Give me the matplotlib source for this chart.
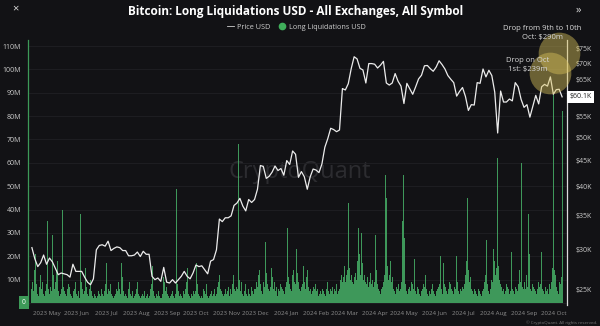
import numpy as np
import pandas as pd
import matplotlib
matplotlib.use('Agg')
import matplotlib.pyplot as plt
import matplotlib.dates as mdates
from matplotlib.lines import Line2D
from matplotlib.ticker import FixedLocator, NullLocator

plt.rcParams['font.family'] = ['Open Sans', 'DejaVu Sans']

# BTC price (USD thousands), one value every 3 days from 2023-04-16 to 2024-10-10
price_start = '2023-04-16'
price_k = [
    30.3, 28.8, 27.8, 28.3, 29.3,
    28.1, 28.9, 28.4, 27.6, 26.8, 27.0, 26.9, 26.8, 26.5, 28.1, 27.2,
    27.2, 27.2, 26.5, 25.9, 25.6, 26.3, 30.0, 30.6, 30.7, 30.5,
    31.2, 29.9, 30.2, 30.4, 30.3, 29.9, 29.9, 29.2, 29.2, 29.3,
    29.7, 29.1, 29.8, 29.4, 29.4, 26.6, 26.2, 26.4, 26.0, 27.7,
    25.9, 25.8, 26.2, 25.8, 26.2, 26.6, 27.2, 26.6, 26.3, 27.0,
    28.0, 27.8, 27.9, 27.4, 26.9, 28.5, 28.7, 30.0, 34.5, 34.1, 34.7,
    34.7, 35.0, 36.7, 37.1, 37.9, 36.6, 35.8, 37.7, 37.2, 37.7,
    39.5, 44.0, 43.8, 41.5, 41.9, 42.7, 43.9, 43.0, 43.4, 42.1,
    45.0, 44.2, 47.0, 46.3, 41.7, 42.8, 41.8, 39.5, 41.8, 43.3,
    43.1, 42.6, 44.3, 47.8, 49.7, 52.1, 51.8, 51.3, 51.7, 62.4,
    62.0, 63.8, 68.3, 72.1, 71.4, 68.4, 67.9, 64.0, 69.9, 69.9,
    69.7, 68.5, 69.4, 70.6, 64.0, 63.4, 64.0, 66.8, 64.5, 63.1,
    58.3, 63.9, 62.3, 60.8, 62.9, 65.2, 66.3, 69.2, 69.3, 68.3, 67.5,
    68.8, 70.8, 69.6, 68.2, 66.2, 65.1, 64.1, 60.3, 61.6, 62.7,
    60.2, 56.5, 58.0, 57.9, 64.1, 63.9, 68.2, 65.8, 67.8, 66.2,
    61.4, 51.0, 61.7, 58.7, 58.7, 59.5, 59.0, 64.1, 62.9, 59.4,
    57.3, 58.0, 54.8, 57.6, 60.5, 58.2, 62.9, 63.6, 63.1, 65.8,
    60.8, 62.1, 62.2, 60.1,
]

# daily long liquidations (USD millions), 2023-04-16 .. 2024-10-10
liq_start = '2023-04-16'
liq_apr23 = [6, 9, 5, 14, 21, 8, 4, 3, 7, 12, 6, 9, 4, 3, 5]
liq_may23 = [8, 35, 6, 4, 7, 5, 29, 12, 6, 9, 14, 18, 5, 3, 4, 6, 40, 7, 5, 4, 3, 6, 8, 5, 7, 4, 3, 2, 5, 6, 9]
liq_jun23 = [4, 3, 5, 2, 38, 9, 6, 4, 5, 15, 7, 4, 3, 6, 10, 5, 3, 2, 4, 3, 2, 3, 5, 4, 3, 6, 4, 3, 5, 8]
liq_jul23 = [17, 4, 6, 5, 8, 10, 4, 3, 2, 3, 4, 6, 5, 9, 6, 4, 17, 11, 5, 3, 4, 3, 2, 6, 9, 4, 3, 5, 2, 3, 4]
liq_aug23 = [6, 9, 4, 3, 2, 3, 4, 3, 5, 2, 3, 4, 2, 3, 6, 8, 50, 16, 5, 3, 2, 4, 3, 5, 3, 2, 2, 4, 11, 9, 5]
liq_sep23 = [7, 4, 3, 2, 3, 4, 5, 3, 2, 4, 49, 8, 5, 3, 4, 3, 2, 5, 4, 6, 9, 15, 4, 3, 2, 4, 3, 5, 6, 4]
liq_oct23 = [5, 17, 8, 4, 3, 2, 3, 2, 6, 5, 4, 8, 3, 2, 3, 4, 5, 3, 4, 6, 3, 4, 7, 9, 12, 6, 5, 4, 3, 4, 6]
liq_nov23 = [4, 5, 7, 3, 6, 4, 8, 12, 6, 9, 5, 7, 6, 68, 10, 5, 9, 4, 3, 5, 8, 4, 3, 6, 4, 3, 7, 5, 4, 6]
liq_dec23 = [6, 9, 7, 12, 14, 8, 5, 4, 9, 7, 26, 13, 8, 6, 5, 7, 15, 11, 6, 9, 5, 7, 4, 3, 6, 5, 8, 7, 6, 5, 4]
liq_jan24 = [7, 9, 32, 11, 8, 6, 5, 12, 14, 9, 8, 23, 13, 9, 6, 5, 7, 8, 16, 9, 6, 11, 14, 7, 5, 6, 4, 5, 7, 6, 8]
liq_feb24 = [5, 6, 4, 3, 4, 5, 4, 6, 5, 4, 3, 6, 9, 5, 4, 6, 5, 7, 4, 6, 5, 8, 4, 5, 6, 10, 12, 9, 11]
liq_mar24 = [16, 9, 12, 14, 43, 15, 10, 12, 9, 8, 11, 13, 10, 18, 32, 21, 14, 12, 30, 17, 10, 12, 9, 8, 11, 7, 9, 13, 8, 10, 7]
liq_apr24 = [9, 29, 14, 8, 6, 5, 4, 6, 7, 9, 12, 55, 45, 16, 10, 12, 18, 9, 11, 6, 5, 4, 7, 6, 8, 5, 6, 4, 9, 35]
liq_may24 = [55, 28, 8, 5, 4, 6, 7, 5, 9, 8, 6, 19, 5, 4, 7, 6, 4, 3, 5, 6, 8, 7, 12, 6, 4, 3, 5, 4, 6, 8, 5]
liq_jun24 = [4, 3, 5, 6, 7, 8, 20, 6, 4, 9, 17, 8, 7, 5, 4, 6, 9, 8, 6, 5, 4, 7, 6, 20, 9, 5, 4, 6, 5, 7]
liq_jul24 = [6, 8, 12, 18, 45, 14, 9, 11, 6, 5, 4, 6, 5, 4, 3, 6, 5, 4, 3, 5, 6, 4, 9, 12, 27, 8, 5, 4, 6, 10, 9]
liq_aug24 = [23, 18, 12, 15, 62, 16, 10, 8, 7, 5, 6, 4, 5, 8, 7, 6, 4, 5, 22, 6, 5, 4, 7, 6, 5, 8, 14, 9, 60, 7, 6]
liq_sep24 = [9, 6, 8, 12, 7, 38, 21, 6, 5, 8, 7, 6, 5, 4, 6, 9, 7, 8, 22, 6, 5, 4, 7, 5, 6, 4, 8, 6, 9, 15]
liq_oct24 = [89, 14, 12, 7, 5, 4, 9, 8, 11, 82]

liq_m = (liq_apr23 + liq_may23 + liq_jun23 + liq_jul23 + liq_aug23 + liq_sep23 + liq_oct23
         + liq_nov23 + liq_dec23 + liq_jan24 + liq_feb24 + liq_mar24 + liq_apr24 + liq_may24
         + liq_jun24 + liq_jul24 + liq_aug24 + liq_sep24 + liq_oct24)

liq_ticks = [0, 10, 20, 30, 40, 50, 60, 70, 80, 90, 100, 110]
price_ticks = [25, 30, 35, 40, 45, 50, 55, 60, 65, 70, 75]
last_price = 60.1

price_dates = pd.date_range(price_start, periods=len(price_k), freq='3D')
liq_dates = pd.date_range(liq_start, periods=len(liq_m), freq='D')

bg = '#121215'
fig = plt.figure(figsize=(6, 3.26), dpi=100, facecolor=bg)
ax = fig.add_axes([28/600, 1-305/326, 539/600, 265/326], facecolor=bg)

ax.bar(liq_dates, liq_m, width=1.0, color='#44a862', linewidth=0, alpha=0.9)
ax.set_ylim(-0.86, 112.6)
ax.set_xlim(pd.Timestamp('2023-04-12'), pd.Timestamp('2024-10-15'))
ax.yaxis.set_major_locator(FixedLocator(liq_ticks))
ax.set_yticklabels(['' if v == 0 else f'{v}M' for v in liq_ticks])
ax.grid(axis='y', color='#202024', linewidth=0.6)
ax.set_axisbelow(True)
ax.tick_params(axis='y', length=0, pad=5, labelsize=5, labelcolor='#cccccc')
ax.xaxis.set_major_locator(mdates.MonthLocator())
ax.xaxis.set_major_formatter(mdates.DateFormatter('%Y %b'))
ax.tick_params(axis='x', length=0, pad=4, labelsize=4.4, labelcolor='#8c8c8c')
for s in ['top', 'right', 'bottom']:
    ax.spines[s].set_visible(False)
ax.spines['left'].set_color('#3d9a58')
ax.spines['left'].set_linewidth(0.9)

# price on log scale
ax2 = ax.twinx()
ax2.plot(price_dates, price_k, color='#ececec', linewidth=0.9)
ax2.set_yscale('log')
ax2.set_ylim(23.35, 77.8)
ax2.yaxis.set_major_locator(FixedLocator(price_ticks))
ax2.yaxis.set_minor_locator(NullLocator())
# the $60K label sits under the last-price badge
ax2.set_yticklabels(['' if v == 60 else f'${v}K' for v in price_ticks])
ax2.tick_params(axis='y', length=0, pad=6, labelsize=5, labelcolor='#cccccc')
for s in ['top', 'left', 'bottom']:
    ax2.spines[s].set_visible(False)
ax2.spines['right'].set_color('#dcdcdc')
ax2.spines['right'].set_linewidth(0.9)

# value badges
ax.text(-0.004, 0, '0', transform=ax.get_yaxis_transform(), ha='right', va='center',
        fontsize=4.8, color='white',
        bbox=dict(boxstyle='square,pad=0.45', fc='#3d9a58', ec='none'))
ax2.text(1.004, last_price, f'${last_price}K', transform=ax2.get_yaxis_transform(),
         ha='left', va='center', fontsize=5, color='#222222',
         bbox=dict(boxstyle='square,pad=0.35', fc='white', ec='none'))

# highlight circles
ax2.scatter([pd.Timestamp('2024-10-07')], [73.3], s=900, color='#d9c25a', alpha=0.45,
            linewidth=0, clip_on=False, zorder=5)
ax2.scatter([pd.Timestamp('2024-09-28')], [66.9], s=900, color='#d9c25a', alpha=0.45,
            linewidth=0, clip_on=False, zorder=5)

# watermark
ax.text(0.505, 0.50, 'CryptoQuant', transform=ax.transAxes, ha='center', va='center',
        fontsize=17, color='#2c2c30', zorder=0)

fig.text(296/600, 1-12/326, 'Bitcoin: Long Liquidations USD - All Exchanges, All Symbol',
         ha='center', va='center', fontsize=8.5, fontweight='bold', color='white')
handles = [Line2D([], [], color='#cfcfcf', lw=0.6),
           Line2D([], [], marker='o', ls='none', color='#3fae5a', markersize=4.5)]
fig.legend(handles, ['Price USD', 'Long Liquidations USD'], loc='center',
           bbox_to_anchor=(296/600, 1-27/326), ncol=2, frameon=False, fontsize=5.2,
           labelcolor='#cfcfcf', handlelength=1.0, handletextpad=0.4, columnspacing=1.2)

fig.text(542/600, 1-33/326, 'Drop from 9th to 10th\nOct: $290m', ha='center', va='center',
         fontsize=5.5, color='#d8d8d8', linespacing=1.5)
fig.text(528/600, 1-65/326, 'Drop on Oct\n1st: $239m', ha='center', va='center',
         fontsize=5.5, color='#d8d8d8', linespacing=1.5)
fig.text(15/600, 1-9/326, '×', ha='center', va='center', fontsize=8, color='#dddddd')
fig.text(578/600, 1-10/326, '»', ha='center', va='center', fontsize=8, color='#dddddd')
fig.text(597/600, 1-323/326, '© CryptoQuant. All rights reserved.', ha='right', va='center',
         fontsize=3.2, color='#777777')

fig.savefig('out.png', dpi=100, facecolor=bg)
